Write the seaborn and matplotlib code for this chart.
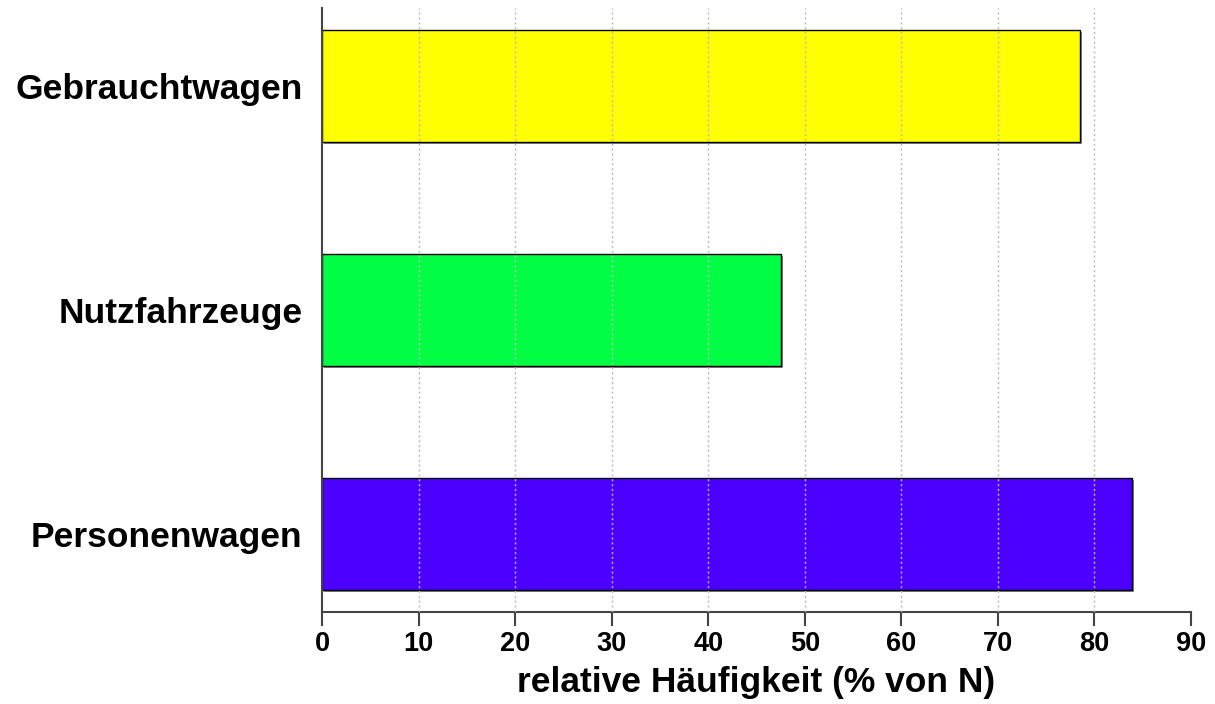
import pandas as pd
import seaborn as sns
from matplotlib import pyplot as plt
from matplotlib import patheffects as pe

# データ
kategorien = ["Gebrauchtwagen", "Nutzfahrzeuge", "Personenwagen"]
anteile = [78.5, 47.5, 83.9]
farben = ["#FFFF00", "#00FF44", "#4C00FF"]
x_ticks = [0, 10, 20, 30, 40, 50, 60, 70, 80, 90]

df = pd.DataFrame({"kategorie": kategorien, "anteil": anteile})

sns.set_style("white")
plt.rcParams["font.family"] = ["Liberation Sans", "DejaVu Sans"]
plt.rcParams["text.color"] = "black"
plt.rcParams["xtick.color"] = "black"
plt.rcParams["ytick.color"] = "black"
plt.rcParams["axes.labelcolor"] = "black"

fig = plt.figure(figsize=(12.15, 7.04), dpi=100)
ax = fig.add_axes([322 / 1215, 1 - 612 / 704, (1191 - 322) / 1215, (612 - 8) / 704])

sns.barplot(
    data=df, x="anteil", y="kategorie", hue="kategorie", palette=farben,
    orient="h", width=0.5, saturation=1, edgecolor="black", linewidth=1.0,
    legend=False, ax=ax,
)
for bar in ax.patches:
    bar.set_path_effects([
        pe.SimplePatchShadow(offset=(1.5, -1.5), shadow_rgbFace="#888888", alpha=1.0),
        pe.Normal(),
    ])

ax.set_xlim(0, 90)
ax.set_ylim(2.35, -0.35)
ax.set_xticks(x_ticks)
ax.set_xticklabels([str(t) for t in x_ticks], fontsize=19.5, fontweight="bold")
ax.set_yticks(range(len(kategorien)))
ax.set_yticklabels(kategorien, fontsize=25.5, fontweight="bold")
ax.tick_params(axis="x", bottom=True, length=10, width=1.5, color="#444444", pad=4)
ax.tick_params(axis="y", left=False, length=0, pad=14)
ax.set_ylabel("")
ax.set_xlabel("relative Häufigkeit (% von N)", fontsize=25.5, fontweight="bold", labelpad=6)

# グリッド
ax.set_axisbelow(False)
ax.grid(axis="x", linestyle=(0, (1.5, 2)), color="#bbbbbb", linewidth=1.0)
ax.grid(axis="y", visible=False)
gl = ax.get_xgridlines()
gl[0].set_visible(False)
gl[-1].set_visible(False)

for s in ["top", "right"]:
    ax.spines[s].set_visible(False)
for s in ["left", "bottom"]:
    ax.spines[s].set_color("#444444")
    ax.spines[s].set_linewidth(1.5)

fig.savefig("out.png", dpi=100)
